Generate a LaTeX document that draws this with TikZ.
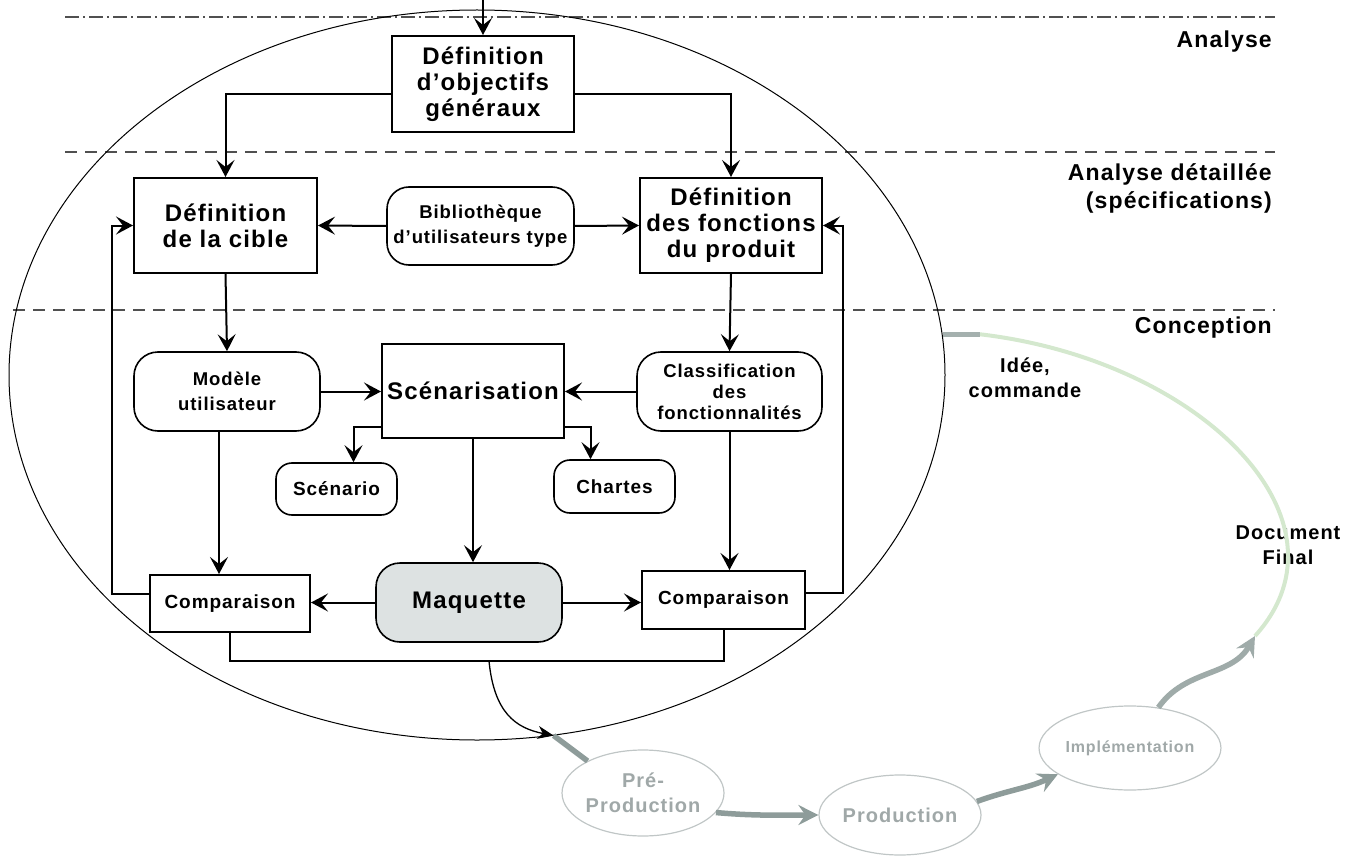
\documentclass[tikz,border=0pt]{standalone}
\usepackage{fontspec}
\setmainfont{Liberation Sans}[LetterSpace=5]
\usetikzlibrary{arrows.meta,shapes.geometric,calc}
\definecolor{gArrow}{HTML}{8E9C9A}
\definecolor{gText}{HTML}{A0A8A8}
\definecolor{gBorder}{HTML}{C0C6C6}
\definecolor{gGreen}{HTML}{D4E8CE}
\definecolor{gFill}{HTML}{DDE2E2}
\definecolor{dashc}{HTML}{505050}
\begin{document}
\begin{tikzpicture}[x=1pt,y=-1pt,
  bigbox/.style={draw, line width=2pt, align=center, inner sep=0pt,
    font=\bfseries\fontsize{24}{26}\selectfont},
  smallbox/.style={draw, line width=2pt, align=center, inner sep=0pt,
    font=\bfseries\fontsize{19}{22}\selectfont},
  roundbox/.style={draw, line width=1.6pt, rounded corners=24pt, align=center, inner sep=0pt,
    font=\bfseries\fontsize{18.5}{25}\selectfont},
  arr/.style={line width=2pt, -{Stealth[length=17pt,width=18pt,inset=7pt]}},
  conn/.style={line width=2pt},
  dl/.style={draw=dashc, line width=1.2pt, dash pattern=on 12pt off 8pt},
  dld/.style={draw=dashc, line width=1.2pt, dash pattern=on 14pt off 4pt on 2pt off 4pt},
  lab/.style={font=\bfseries\fontsize{23}{28}\selectfont, align=right, anchor=east, inner sep=0pt},
  note/.style={font=\bfseries\fontsize{20}{25}\selectfont, align=center, inner sep=0pt},
  phase/.style={ellipse, draw=gBorder, line width=1.2pt, text=gText, align=center, inner sep=0pt,
    font=\bfseries\fontsize{20}{25}\selectfont},
  garr/.style={draw=gArrow, line width=5.5pt, -{Stealth[length=20pt,width=20pt,inset=7pt]}},
]
\useasboundingbox (0,0) rectangle (1358,856);

% phase separators
\draw[dld] (65,17) -- (1275,17);
\draw[dl] (65,152) -- (1275,152);
\draw[dl] (13,310) -- (1275,310);

% big ellipse
\node[ellipse, draw, line width=1pt, minimum width=936pt, minimum height=730pt, inner sep=0pt] (cycle) at (477,375) {};

% labels
\node[lab] (lanalyse) at (1272,42) {Analyse};
\node[lab] (ldet) at (1272,188) {Analyse détaillée\\(spécifications)};
\node[lab] (lconc) at (1272,328) {Conception};
\node[note] (idee) at (1025,378) {Idée,\\commande};
\node[note] (docf) at (1288,545) {Document\\Final};

% boxes
\node[bigbox, minimum width=182pt, minimum height=96pt] (obj) at (483,84) {Définition\\d'objectifs\\généraux};
\node[bigbox, minimum width=183pt, minimum height=95pt] (cible) at (225.5,225.5) {Définition\\de la cible};
\node[roundbox, rounded corners=22pt, minimum width=187pt, minimum height=78pt] (biblio) at (480.5,226) {Bibliothèque\\d'utilisateurs type};
\node[bigbox, minimum width=182pt, minimum height=95pt] (fonct) at (731,225.5) {Définition\\des fonctions\\du produit};
\node[roundbox, minimum width=186pt, minimum height=79pt] (modele) at (227,391.5) {Modèle\\utilisateur};
\node[bigbox, minimum width=182pt, minimum height=94pt] (scen) at (473,391) {Scénarisation};
\node[roundbox, font=\bfseries\fontsize{18.5}{21}\selectfont, minimum width=185pt, minimum height=79pt] (classif) at (729.5,391.5) {Classification\\des\\fonctionnalités};
\node[roundbox, rounded corners=16pt, font=\bfseries\fontsize{19}{22}\selectfont, minimum width=121pt, minimum height=52pt] (scenario) at (336.5,489) {Scénario};
\node[roundbox, rounded corners=16pt, font=\bfseries\fontsize{19}{22}\selectfont, minimum width=121pt, minimum height=53pt] (chartes) at (614.5,486.5) {Chartes};
\node[roundbox, fill=gFill, font=\bfseries\fontsize{24}{26}\selectfont, minimum width=186pt, minimum height=79pt] (maq) at (469,602.5) {Maquette};
\node[smallbox, minimum width=160pt, minimum height=57pt] (compL) at (230,603.5) {Comparaison};
\node[smallbox, minimum width=163pt, minimum height=58pt] (compR) at (723.5,600) {Comparaison};

% helper coordinates
\coordinate (topin) at (483,0);
\coordinate (fbL) at (112,0);
\coordinate (fbR) at (843,0);
\coordinate (botY) at (0,661);
\coordinate (cs) at (489,661);

% connectors
\draw[arr] (topin) -- (obj.north);
\draw[arr] ([yshift=-10pt]obj.west) -| (cible.north);
\draw[arr] ([yshift=-10pt]obj.east) -| (fonct.north);
\draw[arr] (biblio.west) -- (cible.east);
\draw[arr] (biblio.east) -- (fonct.west);
\draw[arr] ([yshift=10pt]compL.west) -| (fbL |- cible.west) -- (cible.west);
\draw[arr] ([yshift=7pt]compR.east) -| (fbR |- fonct.east) -- (fonct.east);
\draw[arr] (cible.south) -- (modele.north);
\draw[arr] (fonct.south) -- (classif.north);
\draw[arr] (modele.east) -- (modele.east -| scen.west);
\draw[arr] (classif.west) -- (classif.west -| scen.east);
\draw[arr] ([yshift=-36pt]scen.west) -| ([xshift=17pt]scenario.north);
\draw[arr] ([yshift=-36pt]scen.east) -| ([xshift=-24pt]chartes.north);
\draw[arr] (scen.south) -- (scen.south |- maq.north);
\draw[arr] ([xshift=-8pt]modele.south) -- ([xshift=-8pt]modele.south |- compL.north);
\draw[arr] (classif.south) -- (classif.south |- compR.north);
\draw[arr] (maq.west) -- (maq.west -| compL.east);
\draw[arr] (maq.east) -- (maq.east -| compR.west);
\draw[conn] (compL.south) -- (compL.south |- botY) -| (compR.south);

% production cycle
\node[phase, minimum width=150pt, minimum height=86pt] (pre) at (643,793) {Pré-\\Production};
\node[phase, minimum width=150pt, minimum height=80pt] (prod) at (900,815) {Production};
\node[phase, font=\bfseries\fontsize{16}{18}\selectfont, minimum width=150pt, minimum height=84pt] (impl) at (1130,748) {Implémentation};
\coordinate (docEnd) at (1255,636);
\coordinate (gs) at (980,0);

\draw[gGreen, line width=4pt] (cycle.5 -| gs) .. controls (1200,360) and (1360,520) .. (docEnd);
\draw[gArrow!80, line width=4.5pt] (cycle.5) -- (cycle.5 -| gs);
\draw[line width=1.3pt, -{Stealth[length=16pt,width=13pt,inset=5pt]}] (cs) .. controls (494,712) and (515,728) .. (cycle.-78);
\draw[draw=gArrow, line width=5.5pt] (cycle.-78) -- (pre.150);
\draw[garr] (pre.-15) to[out=-5,in=180] (prod.west);
\draw[garr] (prod.10) to[out=20,in=205] (impl.200);
\draw[garr, draw=gArrow!85] (impl.55) to[out=55,in=240] (docEnd);
\end{tikzpicture}
\end{document}
